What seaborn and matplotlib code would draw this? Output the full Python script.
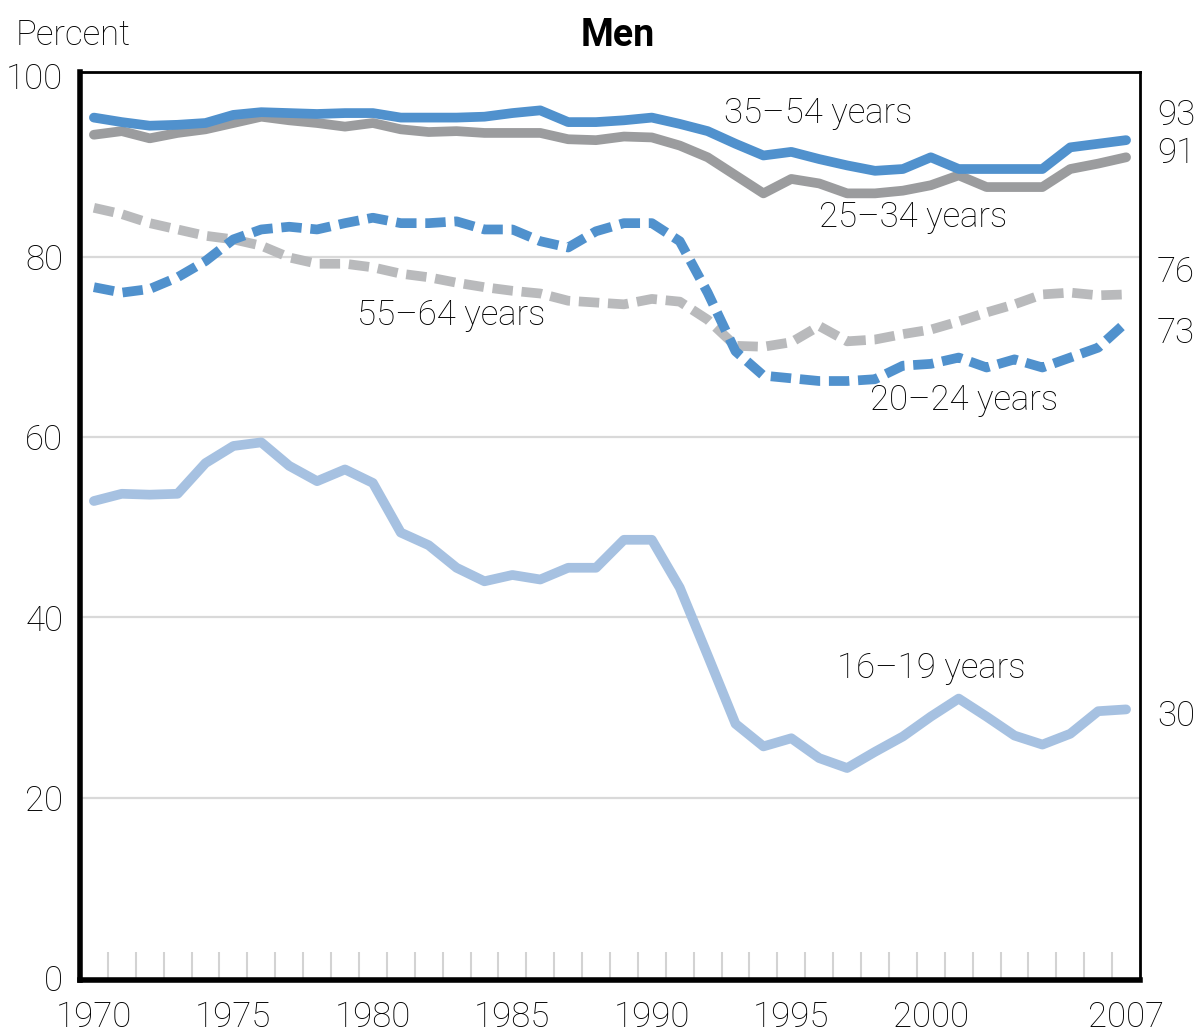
import matplotlib
matplotlib.use("Agg")
import matplotlib.pyplot as plt
import matplotlib.transforms as mtransforms
import seaborn as sns
import pandas as pd

# ── Data ─────────────────────────────────────────────────────────────────────
years = list(range(1970, 2008))

age_35_54 = [95.4, 94.9, 94.5, 94.6, 94.8, 95.7, 96.0, 95.9, 95.8, 95.9,
             95.9, 95.4, 95.4, 95.4, 95.5, 95.9, 96.2, 94.9, 94.9, 95.1,
             95.4, 94.7, 93.9, 92.5, 91.2, 91.6, 90.8, 90.1, 89.5, 89.7,
             91.0, 89.7, 89.7, 89.7, 89.7, 92.1, 92.5, 92.9]
age_25_34 = [93.5, 93.9, 93.1, 93.7, 94.1, 94.8, 95.5, 95.1, 94.8, 94.4,
             94.8, 94.1, 93.8, 93.9, 93.7, 93.7, 93.7, 93.0, 92.9, 93.3,
             93.2, 92.3, 91.0, 89.0, 87.0, 88.6, 88.1, 87.0, 87.0, 87.3,
             87.9, 89.0, 87.7, 87.7, 87.7, 89.7, 90.3, 91.0]
age_55_64 = [85.4, 84.7, 83.7, 83.0, 82.3, 81.9, 81.2, 79.9, 79.2, 79.2,
             78.8, 78.1, 77.7, 77.1, 76.6, 76.2, 75.9, 75.1, 74.9, 74.7,
             75.3, 75.0, 73.0, 70.1, 70.0, 70.5, 72.3, 70.6, 70.8, 71.4,
             71.9, 72.8, 73.8, 74.7, 75.8, 76.0, 75.7, 75.8]
age_20_24 = [76.6, 76.0, 76.4, 77.7, 79.5, 81.9, 83.0, 83.3, 83.0, 83.7,
             84.3, 83.7, 83.7, 83.9, 83.0, 83.0, 81.7, 81.0, 82.8, 83.7,
             83.7, 81.7, 76.0, 69.5, 66.8, 66.5, 66.2, 66.2, 66.4, 67.9,
             68.1, 68.8, 67.7, 68.6, 67.7, 68.8, 69.9, 72.7]
age_16_19 = [52.9, 53.7, 53.6, 53.7, 57.1, 59.0, 59.4, 56.8, 55.1, 56.4,
             54.9, 49.4, 48.0, 45.5, 44.0, 44.7, 44.2, 45.5, 45.5, 48.6,
             48.6, 43.3, 35.8, 28.2, 25.7, 26.6, 24.4, 23.3, 25.1, 26.8,
             29.0, 31.0, 29.0, 26.9, 25.9, 27.1, 29.6, 29.8]

series_names = ["55–64 years", "20–24 years", "25–34 years", "35–54 years", "16–19 years"]
series_values = [age_55_64, age_20_24, age_25_34, age_35_54, age_16_19]
end_labels = ["76", "73", "91", "93", "30"]

x_tick_labels = ["1970", "1975", "1980", "1985", "1990", "1995", "2000", "2007"]
y_tick_values = [0, 20, 40, 60, 80, 100]

# ── Styling ──────────────────────────────────────────────────────────────────
sns.set_theme(style="white")
plt.rcParams["font.family"] = ["Roboto", "DejaVu Sans"]
plt.rcParams["font.weight"] = "light"

BLUE = "#5091cd"
GRAY = "#9b9c9e"
LIGHT_GRAY = "#b9babc"
LIGHT_BLUE = "#a6c1e1"
DASH = (0, (2.1, 0.9))
TEXT = "black"
FS = 25

styles = {
    "55–64 years": dict(color=LIGHT_GRAY, linestyle=DASH),
    "20–24 years": dict(color=BLUE, linestyle=DASH),
    "25–34 years": dict(color=GRAY, linestyle="-"),
    "35–54 years": dict(color=BLUE, linestyle="-"),
    "16–19 years": dict(color=LIGHT_BLUE, linestyle="-"),
}
# label positions (x in years, y in percent)
label_pos = {
    "35–54 years": (1995.95, 95.9),
    "25–34 years": (1999.35, 84.4),
    "55–64 years": (1982.8, 73.5),
    "20–24 years": (2001.2, 64.1),
    "16–19 years": (2000.0, 34.4),
}
end_label_y = {"76": 78.3, "73": 71.5, "91": 91.5, "93": 95.7, "30": 29.0}

fig = plt.figure(figsize=(11.97, 10.35), dpi=100)
ax = fig.add_axes([0.0668, 0.0531, 0.8856, 0.8773])

for name, vals in zip(series_names, series_values):
    df = pd.DataFrame({"year": years, "value": vals})
    sns.lineplot(data=df, x="year", y="value", ax=ax, linewidth=7,
                 solid_capstyle="round", dash_capstyle="butt",
                 **styles[name])

for name, (lx, ly) in label_pos.items():
    ax.text(lx, ly, name, ha="center", va="center", fontsize=FS, color=TEXT)

trans = mtransforms.blended_transform_factory(ax.transAxes, ax.transData)
for lab in end_labels:
    ax.text(1.016, end_label_y[lab], lab, transform=trans, ha="left",
            va="center", fontsize=FS, color=TEXT)

# ── Axes ─────────────────────────────────────────────────────────────────────
ax.set_xlim(1969.5, 2007.5)
ax.set_ylim(-0.2, 100.45)
ax.set_xticks([int(t) for t in x_tick_labels])
ax.set_xticklabels(x_tick_labels, fontsize=FS, color=TEXT)
ax.set_xticks([y + 0.5 for y in years[:-1]], minor=True)
ax.tick_params(axis="x", which="major", length=0, pad=15)
ax.tick_params(axis="x", which="minor", direction="in", length=20,
               width=1.5, color="#d3d3d3", bottom=True)
ax.set_yticks(y_tick_values)
ax.set_yticklabels([str(v) for v in y_tick_values], fontsize=FS, color=TEXT)
ax.tick_params(axis="y", length=4, width=1.5, color="#d3d3d3", pad=8)
for v in y_tick_values[1:-1]:
    ax.axhline(v, color="#d9d9d9", linewidth=1.6, zorder=0)
ax.set_xlabel("")
ax.set_ylabel("")

for side in ["left", "bottom"]:
    ax.spines[side].set_linewidth(4)
for side in ["top", "right"]:
    ax.spines[side].set_linewidth(2)
for s in ax.spines.values():
    s.set_color("black")

fig.text(0.013, 0.966, "Percent", fontsize=FS, ha="left", va="center", color=TEXT)
fig.text(0.516, 0.966, "Men", fontsize=27, fontweight="bold", ha="center",
         va="center", color="black")

fig.savefig("out.png", dpi=100)
